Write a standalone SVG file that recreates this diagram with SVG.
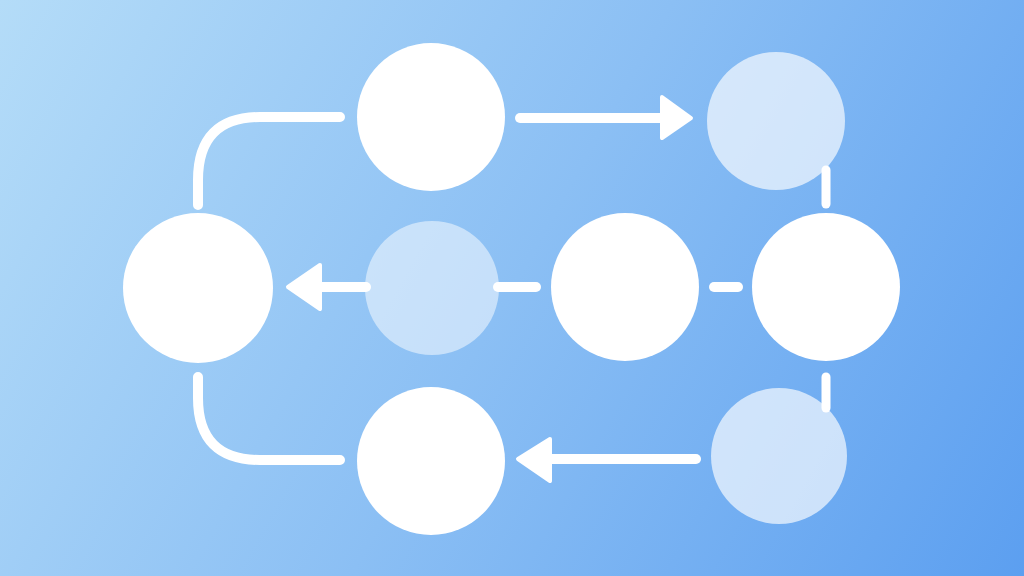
<svg xmlns="http://www.w3.org/2000/svg" width="1024" height="576" viewBox="0 0 1024 576">
<defs>
<linearGradient id="bg" x1="0" y1="0" x2="1024" y2="576" gradientUnits="userSpaceOnUse">
<stop offset="0" stop-color="#b4dcf8"/>
<stop offset="0.5" stop-color="#8bbff4"/>
<stop offset="1" stop-color="#5c9ff0"/>
</linearGradient>
<style>
.ln{fill:none;stroke:#ffffff;stroke-width:10;stroke-linecap:round;stroke-linejoin:round}
.hd{fill:#ffffff;stroke:#ffffff;stroke-width:4;stroke-linejoin:round}
.solid{fill:#ffffff}
.soft{fill:#ffffff;fill-opacity:0.66}
.softer{fill:#ffffff;fill-opacity:0.5}
</style>
</defs>
<rect width="1024" height="576" fill="url(#bg)"/>
<g id="connectors">
<path class="ln" d="M340 117 H260 Q198 117 198 180 V205"/>
<path class="ln" d="M198 377 V398 Q198 460 260 460 H340"/>
<path class="ln" d="M520 118 H668"/>
<polygon class="hd" points="662,97 691,118 662,138"/>
<path class="ln" d="M826 170 V204" style="stroke-width:9"/>
<path class="ln" d="M714 287 H738"/>
<path class="ln" d="M498 287 H536"/>
<path class="ln" d="M366 287 H314"/>
<polygon class="hd" points="320,265 288,287 320,309"/>
<path class="ln" d="M826 377 V408" style="stroke-width:9"/>
<path class="ln" d="M696 459 H545"/>
<polygon class="hd" points="550,439 518,459 550,481"/>
</g>
<g id="n-top"><circle class="solid" cx="431" cy="117" r="74"/></g>
<g id="n-topright"><circle class="soft" cx="776" cy="121" r="69"/></g>
<g id="n-left"><circle class="solid" cx="198" cy="288" r="75"/></g>
<g id="n-midleft"><circle class="softer" cx="432" cy="288" r="67"/></g>
<g id="n-center"><circle class="solid" cx="625" cy="287" r="74"/></g>
<g id="n-right"><circle class="solid" cx="826" cy="287" r="74"/></g>
<g id="n-bottom"><circle class="solid" cx="431" cy="461" r="74"/></g>
<g id="n-bottomright"><circle class="soft" cx="779" cy="456" r="68"/></g>
</svg>
